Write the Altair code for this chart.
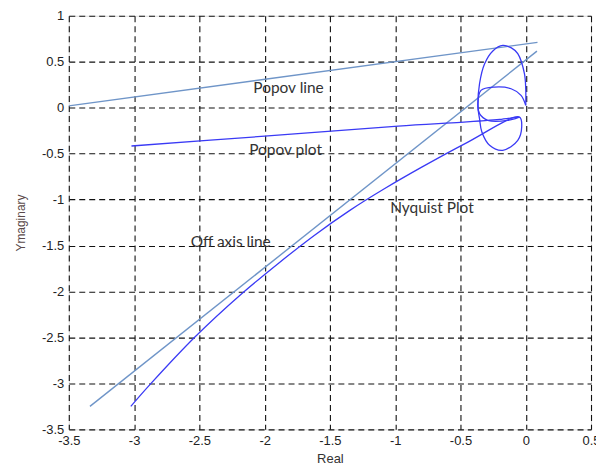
import altair as alt
import pandas as pd

# Nyquist curve (Real, Imag)
nyq_x = [-3.025, -2.87, -2.53, -2.18, -1.9, -1.62, -1.35, -1.08, -0.8, -0.45, -0.048,
         -0.031, -0.061, -0.176, -0.277, -0.336, -0.354, -0.366, -0.354, -0.315, -0.25,
         -0.176, -0.11, -0.061, -0.01, 0.0, 0.0]
nyq_y = [-3.25, -3.0, -2.49, -2.03, -1.70, -1.39, -1.12, -0.88, -0.65, -0.38, -0.102,
         -0.21, -0.355, -0.464, -0.409, -0.265, -0.12, 0.007, 0.26, 0.478, 0.62,
         0.677, 0.65, 0.587, 0.37, 0.2, 0.025]

# Popov plot
pop_x = [-3.02, -2.0, -0.977, -0.5, -0.353, -0.2, -0.048, -0.137, -0.29, -0.354, -0.366,
         -0.343, -0.239, -0.112, -0.036, 0.0]
pop_y = [-0.417, -0.31, -0.2, -0.16, -0.145, -0.128, -0.102, -0.138, -0.138, -0.065, 0.043,
         0.188, 0.224, 0.206, 0.134, 0.025]

# Straight reference lines
popov_line_x = [-3.5, 0.09]
popov_line_y = [0.02, 0.71]
off_axis_x = [-3.338, 0.086]
off_axis_y = [-3.25, 0.615]

labels = ["Popov line", "Popov plot", "Nyquist Plot", "Off axis line"]
label_x = [-1.817, -1.84, -0.718, -2.26]
label_y = [0.21, -0.464, -1.095, -1.464]

x_ticks = [-3.5, -3, -2.5, -2, -1.5, -1, -0.5, 0, 0.5]
y_ticks = [-3.5, -3, -2.5, -2, -1.5, -1, -0.5, 0, 0.5, 1]


def frame(series):
    rows = []
    for name, xs_, ys_ in series:
        for i, (a, b) in enumerate(zip(xs_, ys_)):
            rows.append({"series": name, "order": i, "re": a, "im": b})
    return pd.DataFrame(rows)


curves = frame([("Nyquist", nyq_x, nyq_y), ("Popov plot", pop_x, pop_y)])
straight = frame([("Popov line", popov_line_x, popov_line_y),
                  ("Off axis", off_axis_x, off_axis_y)])
lab_df = pd.DataFrame({"label": labels, "re": label_x, "im": label_y})

xs = alt.Scale(domain=[-3.5, 0.5], nice=False, zero=False)
ys = alt.Scale(domain=[-3.5, 1], nice=False, zero=False)

common = dict(grid=True, gridDash=[6, 4], gridColor="#111", gridWidth=1.1, gridOpacity=1,
              ticks=False, labelFont="Liberation Sans", labelFontSize=13, labelColor="#222",
              titleFont="Liberation Sans", titleFontWeight="normal", domain=False,
              labelFlush=False, labelOverlap=False, labelExpr="'' + datum.value")

xaxis = alt.Axis(values=x_ticks, title="Real", labelPadding=5, titleFontSize=13,
                 titleColor="#333", titlePadding=5, **common)
yaxis = alt.Axis(values=y_ticks, title="Ymaginary", labelPadding=5, titleFontSize=12,
                 titleColor="#5a4a4a", titlePadding=14, **common)

straight_lines = alt.Chart(straight).mark_line(strokeWidth=1.4, color="#6f95c8").encode(
    x=alt.X("re:Q", scale=xs, axis=xaxis),
    y=alt.Y("im:Q", scale=ys, axis=yaxis),
    order="order:Q",
    detail="series:N",
)

curve_lines = alt.Chart(curves).mark_line(strokeWidth=1.3, color="#3a3af5",
                                          interpolate="catmull-rom").encode(
    x=alt.X("re:Q", scale=xs),
    y=alt.Y("im:Q", scale=ys),
    order="order:Q",
    detail="series:N",
)

text = alt.Chart(lab_df).mark_text(font="Lato", fontSize=15.5, color="#333",
                                   align="center", baseline="middle").encode(
    x=alt.X("re:Q", scale=xs), y=alt.Y("im:Q", scale=ys), text="label:N")

chart = alt.layer(straight_lines, curve_lines, text).properties(
    width=524, height=415,
    autosize=alt.AutoSizeParams(type="none"),
    padding={"left": 61, "top": 7, "right": 5, "bottom": 40},
).configure_view(stroke="#111", strokeWidth=1.5).configure(background="white")

chart.save("out.html", embed_options={"renderer": "svg", "actions": False})
